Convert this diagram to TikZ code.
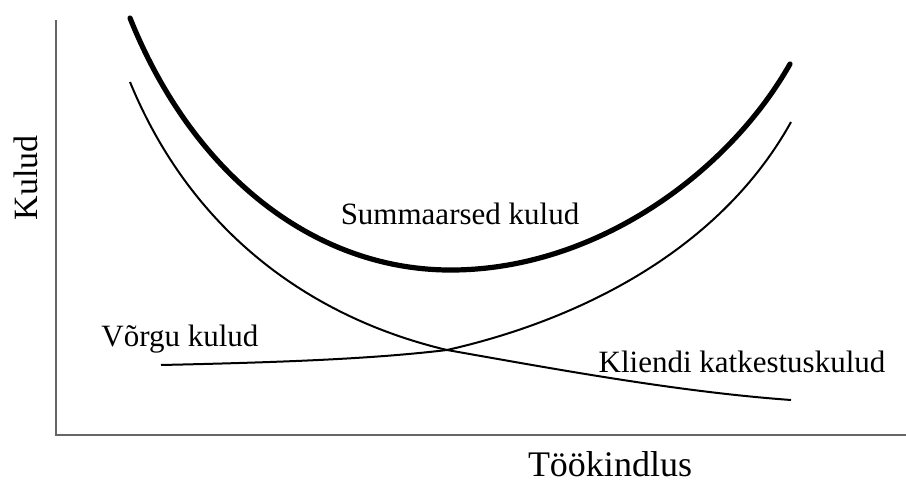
\documentclass[tikz,border=0pt]{standalone}
\usepackage{fontspec}
\setmainfont{Liberation Serif}
\usepackage{tikz}
\usetikzlibrary{positioning}
\tikzstyle{axis}      = [draw=black!60, line width=1pt]
\tikzstyle{total}     = [line width=2.6pt, line cap=round]
\tikzstyle{cost}      = [line width=1pt]
\tikzstyle{lbl}       = [inner sep=0pt, anchor=base, font=\fontsize{15.5}{18}\selectfont]

\begin{document}
\begin{tikzpicture}[x=0.5pt, y=-0.5pt]
		\useasboundingbox (0,0) rectangle (906,485);

		% axes
		\coordinate (top) at (56,20);
		\coordinate (origin) at (56,435);
		\coordinate (right) at (906,435);
		\draw[axis] (top) -- (origin) -- (right);

		\node[lbl, font=\fontsize{18}{21}\selectfont] (xlabel) at (610,477) {Töökindlus};
		\node[lbl, rotate=90, font=\fontsize{17}{20}\selectfont] (ylabel) at (37,178) {Kulud};

		% summaarsed kulud
		\draw[total] (130,18) .. controls (195,180) and (320,272) .. (455,270)
			.. controls (600,268) and (730,170) .. (790,64);
		\node[lbl] (total) at (460,225) {Summaarsed kulud};

		% kliendi katkestuskulud
		\draw[cost] (130,82) .. controls (195,240) and (320,320) .. (447,350)
			.. controls (560,370) and (680,392) .. (791,400);
		\node[lbl] (client) at (742,373) {Kliendi katkestuskulud};

		% vorgu kulud
		\draw[cost] (161,365) .. controls (300,362) and (380,358) .. (447,350)
			.. controls (580,320) and (720,250) .. (791,122);
		\node[lbl] (network) at (180,347) {Võrgu kulud};
	\end{tikzpicture}
\end{document}
